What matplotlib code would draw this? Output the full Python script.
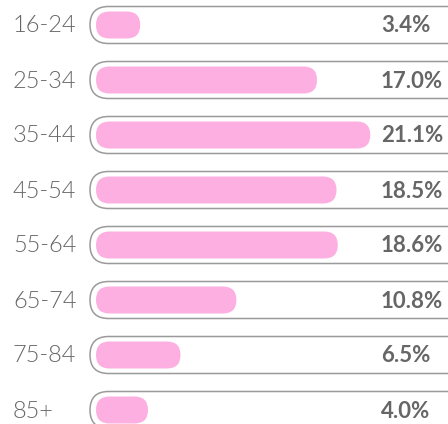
import matplotlib
matplotlib.use("Agg")
import matplotlib.pyplot as plt
from matplotlib.patches import FancyBboxPatch

# data
age_groups = ["16-24", "25-34", "35-44", "45-54", "55-64", "65-74", "75-84", "85+"]
shares = [3.4, 17.0, 21.1, 18.5, 18.6, 10.8, 6.5, 4.0]

plt.rcParams['font.family'] = ['Lato', 'DejaVu Sans']

fig = plt.figure(figsize=(4.48, 4.24), dpi=100)
ax = fig.add_axes([0, 0, 1, 1])
ax.set_xlim(0, 448)
ax.set_ylim(424, 0)
ax.axis("off")

x0 = 96          # pixel where 0% starts
px_per_pct = 13.0
row_gap = 55
row_top = 25
track_h = 37
bar_h = 27

for i, (label, value) in enumerate(zip(age_groups, shares)):
    yc = row_top + i * row_gap

    # outline track
    track = FancyBboxPatch((90, yc - track_h / 2), 380, track_h,
                           boxstyle="round,pad=0,rounding_size=%f" % (track_h / 2),
                           facecolor="white", edgecolor="#9a9a9a", linewidth=1.1)
    ax.add_patch(track)

    # filled bar
    w = value * px_per_pct
    bar = FancyBboxPatch((x0, yc - bar_h / 2), w, bar_h,
                         boxstyle="round,pad=0,rounding_size=%f" % (min(bar_h, w) / 2),
                         facecolor="#fcafe0", edgecolor="none")
    ax.add_patch(bar)

    ax.text(13, yc + 1, label, ha="left", va="center",
            fontsize=17, fontweight=300, color="#666666")
    ax.text(381, yc + 1, "%.1f%%" % value, ha="left", va="center",
            fontsize=16, fontweight="bold", color="#666666")

fig.savefig("out.png", dpi=100)
